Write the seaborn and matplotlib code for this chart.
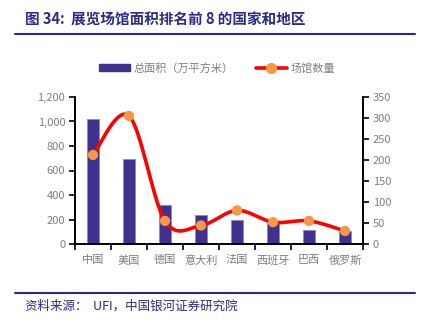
import numpy as np
import pandas as pd
import matplotlib
matplotlib.use("Agg")
import matplotlib.pyplot as plt
from matplotlib.lines import Line2D
from matplotlib.patches import Patch
import seaborn as sns

categories = ["中国", "美国", "德国", "意大利", "法国", "西班牙", "巴西", "俄罗斯"]
area = [1020, 690, 316, 234, 196, 170, 114, 110]
venues = [212, 305, 55, 44, 80, 52, 55, 31]
left_ticks = [0, 200, 400, 600, 800, 1000, 1200]
right_ticks = [0, 50, 100, 150, 200, 250, 300, 350]

sns.set_theme(style="white")
plt.rcParams['font.family'] = ['Noto Sans CJK SC', 'DejaVu Sans']

BAR = "#40318F"
LINE = "#FF0000"
MARK = "#F79646"
NAVY = "#2B2A86"
GRAY = "#7F7F7F"

fig = plt.figure(figsize=(4.27, 3.24), dpi=100)
ax = fig.add_axes([75/427, 1-244/324, (363-75)/427, (244-97)/324])

df = pd.DataFrame({"cat": categories, "area": area, "venues": venues})
sns.barplot(data=df, x="cat", y="area", color=BAR, width=0.33, ax=ax, saturation=1)
for p in ax.patches:
    p.set_edgecolor("#8E86C0")
    p.set_linewidth(0.6)
ax.set_ylim(0, 1200)
ax.set_xlim(-0.5, len(categories) - 0.5)
ax.set_yticks(left_ticks)
ax.set_yticklabels([f"{v:,}" for v in left_ticks])
ax.set_xlabel("")
ax.set_ylabel("")

ax2 = ax.twinx()
# smooth curve (Catmull-Rom style Bezier through data points)
x = np.arange(len(venues), dtype=float)
y = np.array(venues, dtype=float)
px = np.concatenate([[x[0]], x, [x[-1]]])
py = np.concatenate([[y[0]], y, [y[-1]]])
xs, ys = [], []
t = np.linspace(0, 1, 40)
for i in range(1, len(px) - 2):
    p0, p1, p2, p3 = (np.array([px[j], py[j]]) for j in (i-1, i, i+1, i+2))
    c1 = p1 + (p2 - p0) / 6
    c2 = p2 - (p3 - p1) / 6
    b = ((1-t)**3)[:, None]*p1 + (3*(1-t)**2*t)[:, None]*c1 + (3*(1-t)*t**2)[:, None]*c2 + (t**3)[:, None]*p2
    xs.extend(b[:, 0]); ys.extend(b[:, 1])
ax2.plot(xs, ys, color=LINE, lw=2.6, solid_capstyle="round", zorder=3)
sns.scatterplot(x=x, y=y, ax=ax2, color=MARK, s=55, edgecolor="none", zorder=4, legend=False)
ax2.set_ylim(0, 350)
ax2.set_yticks(right_ticks)
ax2.set_xlim(-0.5, len(categories) - 0.5)

# x ticks at boundaries, labels at centers
ax.set_xticks(np.arange(len(categories) + 1) - 0.5)
ax.set_xticklabels([])
ax.set_xticks(np.arange(len(categories)), minor=True)
ax.set_xticklabels(categories, minor=True)
ax.tick_params(axis="x", which="major", direction="out", length=4, width=1.2, color="black", bottom=True)
ax.tick_params(axis="x", which="minor", length=0, labelsize=8, labelcolor=GRAY, pad=8)
ax.tick_params(axis="y", direction="out", length=4, width=1.2, color="black", left=True, labelsize=8, labelcolor=GRAY, pad=3)
ax2.tick_params(axis="y", direction="out", length=4, width=1.2, color="black", right=True, labelsize=8, labelcolor=GRAY, pad=3)

for a in (ax, ax2):
    a.spines["top"].set_visible(False)
    for s in ("left", "right", "bottom"):
        a.spines[s].set_color("black")
        a.spines[s].set_linewidth(1.2)
    a.grid(False)

# legend
handles = [Patch(facecolor=BAR, edgecolor=BAR),
           Line2D([0], [0], color=LINE, lw=2.6, marker="o", markersize=7,
                  markerfacecolor=MARK, markeredgecolor=MARK)]
fig.legend(handles, ["总面积（万平方米）", "场馆数量"], loc="center", bbox_to_anchor=(217/427, 1-68/324),
           ncol=2, frameon=False, fontsize=8, labelcolor=GRAY, handlelength=2.8, handleheight=0.55,
           columnspacing=2.0, handletextpad=0.35)

# title and source
fig.text(25/427, 1-20/324, "图 34:  展览场馆面积排名前 8 的国家和地区", fontsize=10.5, fontweight="bold",
         color=NAVY, va="center", ha="left")
fig.add_artist(Line2D([15/427, 415/427], [1-34/324, 1-34/324], color=NAVY, lw=1.5))
fig.add_artist(Line2D([15/427, 415/427], [1-293/324, 1-293/324], color=NAVY, lw=1.5))
fig.text(25/427, 1-306/324, "资料来源：  UFI，中国银河证券研究院", fontsize=9, color=NAVY,
         va="center", ha="left", style="italic")

fig.savefig("out.png", dpi=100)
